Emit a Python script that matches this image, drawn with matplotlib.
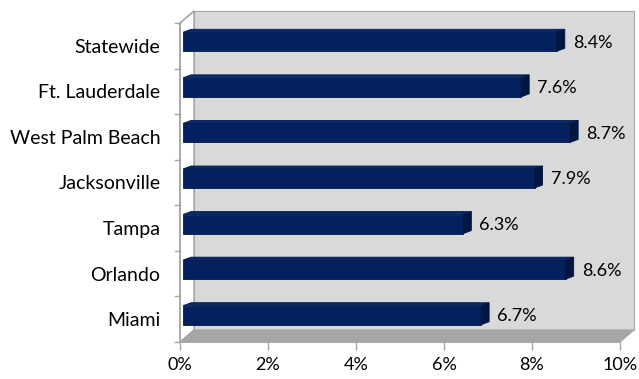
"""Excel 风格的 3D 横向条形图（伪 3D，用多边形拼出来）。"""

import matplotlib

matplotlib.use("Agg")
import matplotlib.pyplot as plt
from matplotlib.patches import Polygon

# 数据
cities = ["Miami", "Orlando", "Tampa", "Jacksonville", "West Palm Beach", "Ft. Lauderdale", "Statewide"]
rates = [6.7, 8.6, 6.3, 7.9, 8.7, 7.6, 8.4]
rate_labels = ["6.7%", "8.6%", "6.3%", "7.9%", "8.7%", "7.6%", "8.4%"]
x_ticks = [0, 2, 4, 6, 8, 10]
x_tick_labels = ["0%", "2%", "4%", "6%", "8%", "10%"]

W, H = 639, 379
FONT = ["Lato", "DejaVu Sans"]

# 前平面像素位置
X0, X1 = 180, 620
Y_TOP, Y_BOT = 23, 342

fig = plt.figure(figsize=(W / 100, H / 100), dpi=100)
ax = fig.add_axes([X0 / W, 1 - Y_BOT / H, (X1 - X0) / W, (Y_BOT - Y_TOP) / H])
ax.set_xlim(0, 10)
ax.set_ylim(-0.5, 6.5)
for s in ax.spines.values():
    s.set_visible(False)
ax.patch.set_alpha(0)

px_x = 10 / (X1 - X0)          # 每像素对应的数据单位
px_y = 7 / (Y_BOT - Y_TOP)

# 背景墙的深度偏移
dx, dy = 14 * px_x, 12 * px_y
y_lo, y_hi = -0.5, 6.5

wall = Polygon([(dx, y_lo + dy), (10 + dx, y_lo + dy), (10 + dx, y_hi + dy), (dx, y_hi + dy)],
               closed=True, facecolor="#d9d9d9", edgecolor="#a6a6a6", lw=0.8, clip_on=False, zorder=1)
left_wall = Polygon([(0, y_lo), (dx, y_lo + dy), (dx, y_hi + dy), (0, y_hi)],
                    closed=True, facecolor="white", edgecolor="#a6a6a6", lw=1.0, clip_on=False, zorder=1)
floor = Polygon([(0, y_lo), (10, y_lo), (10 + dx, y_lo + dy), (dx, y_lo + dy)],
                closed=True, facecolor="#a6a6a6", edgecolor="#a6a6a6", lw=0.8, clip_on=False, zorder=2)
for p in (wall, left_wall, floor):
    ax.add_patch(p)

# 前轴线
ax.plot([0, 0], [y_lo, y_hi], color="#a6a6a6", lw=1.2, clip_on=False, zorder=3)
ax.plot([0, 10], [y_lo, y_lo], color="#a6a6a6", lw=1.2, clip_on=False, zorder=3)

# 条形：正面 + 顶面 + 侧面
bar_h = 19 * px_y
off_x, off_y = 3 * px_x, 4 * px_y
ddx, ddy = 8 * px_x, 3 * px_y
scale = 44.5 / 44.0
for i, (v, lab) in enumerate(zip(rates, rate_labels)):
    x_l = off_x
    x_r = off_x + v * scale
    yb = i + off_y - bar_h / 2
    yt = i + off_y + bar_h / 2
    ax.add_patch(Polygon([(x_l, yb), (x_r, yb), (x_r, yt), (x_l, yt)], closed=True,
                         facecolor="#02215e", edgecolor="#011a4a", lw=0.6, zorder=4, clip_on=False))
    ax.add_patch(Polygon([(x_l, yt), (x_r, yt), (x_r + ddx, yt + ddy), (x_l + ddx, yt + ddy)], closed=True,
                         facecolor="#0a2a6e", edgecolor="#011a4a", lw=0.6, zorder=4, clip_on=False))
    ax.add_patch(Polygon([(x_r, yb), (x_r + ddx, yb + ddy), (x_r + ddx, yt + ddy), (x_r, yt)], closed=True,
                         facecolor="#011640", edgecolor="#011640", lw=0.6, zorder=4, clip_on=False))
    ax.text(x_r + ddx + 8 * px_x, i + off_y - 1 * px_y, lab, ha="left", va="center",
            fontsize=13, family=FONT, color="black", zorder=5)

# 刻度
ax.set_xticks(x_ticks)
ax.set_xticklabels(x_tick_labels, family=FONT, fontsize=13)
ax.set_yticks(range(len(cities)))
ax.set_yticklabels(cities, family=FONT, fontsize=14)
ax.tick_params(axis="y", length=0, pad=14)
ax.tick_params(axis="x", length=6, color="#a6a6a6", width=1.0, pad=5)
# 类别分隔短刻度
for k in range(len(cities) + 1):
    yk = y_lo + k
    ax.plot([-5 * px_x, 0], [yk, yk], color="#a6a6a6", lw=1.0, clip_on=False, zorder=3)
ax.plot([0, dx], [y_hi, y_hi + dy], color="#a6a6a6", lw=1.0, clip_on=False, zorder=3)

fig.savefig("out.png", dpi=100)
